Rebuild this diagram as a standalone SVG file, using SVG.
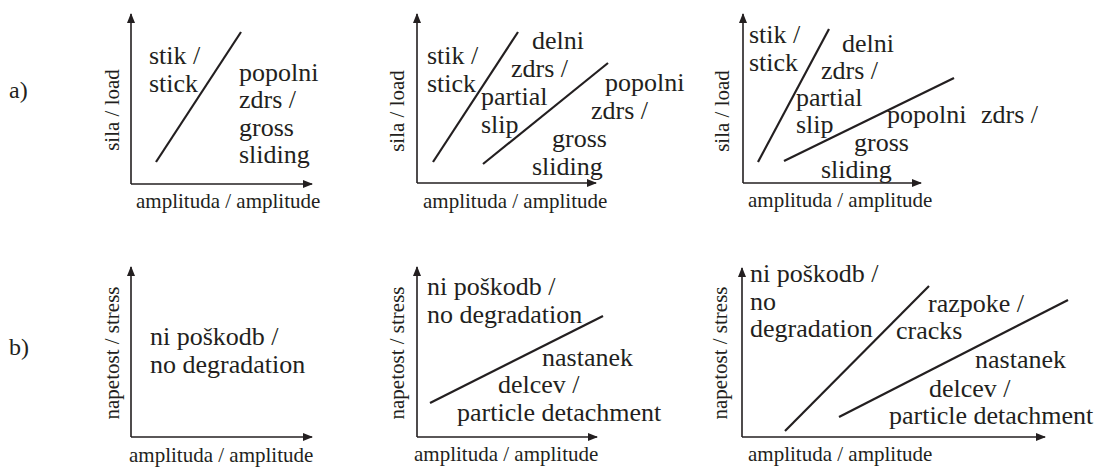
<svg xmlns="http://www.w3.org/2000/svg" width="1099" height="469" viewBox="0 0 1099 469">
<style>
text{font-family:"Liberation Serif","Times New Roman",serif;fill:#231f20}
.r{font-size:26px}
.ax{font-size:21px}
.lb{font-size:24px}
.axis{stroke:#231f20;stroke-width:1.6;fill:none}
.bd{stroke:#231f20;stroke-width:2.2;fill:none}
.rot{text-anchor:middle}
</style>
<defs>
<marker id="arr" viewBox="0 0 10 8" refX="9" refY="4" markerWidth="10" markerHeight="8" markerUnits="userSpaceOnUse" orient="auto">
<path d="M0,0 L10,4 L0,8 z" fill="#231f20"/>
</marker>
</defs>
<rect width="1099" height="469" fill="#fff"/>
<g id="labels">
<text class="lb" x="9" y="98">a)</text>
<text class="lb" x="9" y="355">b)</text>
</g>
<g id="panel-a1">
<path class="axis" d="M131,184 V14" marker-end="url(#arr)"/>
<path class="axis" d="M131,184 H312" marker-end="url(#arr)"/>
<line class="bd" x1="156" y1="162" x2="241" y2="32"/>
<text class="r" x="149" y="64">stik /</text>
<text class="r" x="149" y="92">stick</text>
<text class="r" x="239" y="81">popolni</text>
<text class="r" x="239" y="108">zdrs /</text>
<text class="r" x="239" y="136">gross</text>
<text class="r" x="239" y="163">sliding</text>
<text class="ax" x="136" y="208">amplituda / amplitude</text>
<text class="ax rot" transform="translate(119,110) rotate(-90)">sila / load</text>
</g>
<g id="panel-a2">
<path class="axis" d="M417,183 V14" marker-end="url(#arr)"/>
<path class="axis" d="M417,183 H596" marker-end="url(#arr)"/>
<line class="bd" x1="433" y1="162" x2="518" y2="32"/>
<line class="bd" x1="483" y1="164" x2="608" y2="63"/>
<text class="r" x="427" y="64">stik /</text>
<text class="r" x="427" y="92">stick</text>
<text class="r" x="532" y="49">delni</text>
<text class="r" x="511" y="77">zdrs /</text>
<text class="r" x="481" y="105">partial</text>
<text class="r" x="481" y="133">slip</text>
<text class="r" x="605" y="91">popolni</text>
<text class="r" x="591" y="119">zdrs /</text>
<text class="r" x="552" y="147">gross</text>
<text class="r" x="532" y="175">sliding</text>
<text class="ax" x="423" y="208">amplituda / amplitude</text>
<text class="ax rot" transform="translate(404,111) rotate(-90)">sila / load</text>
</g>
<g id="panel-a3">
<path class="axis" d="M743,183 V14" marker-end="url(#arr)"/>
<path class="axis" d="M743,183 H921" marker-end="url(#arr)"/>
<line class="bd" x1="758" y1="162" x2="829" y2="29"/>
<line class="bd" x1="784" y1="161" x2="954" y2="78"/>
<text class="r" x="749" y="43">stik /</text>
<text class="r" x="749" y="71">stick</text>
<text class="r" x="842" y="52">delni</text>
<text class="r" x="821" y="79">zdrs /</text>
<text class="r" x="796" y="106">partial</text>
<text class="r" x="796" y="133">slip</text>
<text class="r" y="123"><tspan x="887">popolni</tspan><tspan x="981">zdrs /</tspan></text>
<text class="r" x="854" y="151">gross</text>
<text class="r" x="821" y="178">sliding</text>
<text class="ax" x="748" y="207">amplituda / amplitude</text>
<text class="ax rot" transform="translate(729,111) rotate(-90)">sila / load</text>
</g>
<g id="panel-b1">
<path class="axis" d="M131,437 V267" marker-end="url(#arr)"/>
<path class="axis" d="M131,437 H312" marker-end="url(#arr)"/>
<text class="r" x="150" y="345">ni poškodb /</text>
<text class="r" x="150" y="373">no degradation</text>
<text class="ax" x="129" y="462">amplituda / amplitude</text>
<text class="ax rot" transform="translate(119,353) rotate(-90)">napetost / stress</text>
</g>
<g id="panel-b2">
<path class="axis" d="M417,437 V267" marker-end="url(#arr)"/>
<path class="axis" d="M417,437 H597" marker-end="url(#arr)"/>
<line class="bd" x1="430" y1="403" x2="603" y2="316"/>
<text class="r" x="427" y="295">ni poškodb /</text>
<text class="r" x="427" y="323">no degradation</text>
<text class="r" x="542" y="366">nastanek</text>
<text class="r" x="498" y="393">delcev /</text>
<text class="r" x="457" y="421">particle detachment</text>
<text class="ax" x="414" y="461">amplituda / amplitude</text>
<text class="ax rot" transform="translate(404,353) rotate(-90)">napetost / stress</text>
</g>
<g id="panel-b3">
<path class="axis" d="M742,437 V268" marker-end="url(#arr)"/>
<path class="axis" d="M742,437 H1045" marker-end="url(#arr)"/>
<line class="bd" x1="785" y1="431" x2="929" y2="286"/>
<line class="bd" x1="839" y1="417" x2="1068" y2="300"/>
<text class="r" x="750" y="282">ni poškodb /</text>
<text class="r" x="750" y="310">no</text>
<text class="r" x="750" y="337">degradation</text>
<text class="r" x="928" y="312">razpoke /</text>
<text class="r" x="896" y="339">cracks</text>
<text class="r" x="975" y="368">nastanek</text>
<text class="r" x="929" y="397">delcev /</text>
<text class="r" x="889" y="424">particle detachment</text>
<text class="ax" x="748" y="461">amplituda / amplitude</text>
<text class="ax rot" transform="translate(727,353) rotate(-90)">napetost / stress</text>
</g>
</svg>
